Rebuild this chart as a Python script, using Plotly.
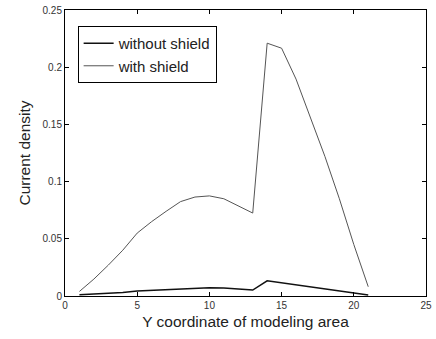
import plotly.graph_objects as go

x_vals = list(range(1, 22))
with_shield = [0.004, 0.0148, 0.027, 0.040, 0.055, 0.065, 0.074, 0.0825, 0.0865, 0.0875,
               0.085, 0.079, 0.0725, 0.221, 0.2166, 0.1896, 0.156, 0.122, 0.085, 0.045, 0.0081]
without_shield = [0.001, 0.0016, 0.0023, 0.0031, 0.0043, 0.005, 0.0058, 0.0065, 0.0071, 0.0073,
                  0.0069, 0.0061, 0.0052, 0.0133, 0.0115, 0.0097, 0.0078, 0.006, 0.0042, 0.0023, 0.0008]

x_ticks = [0, 5, 10, 15, 20, 25]
y_ticks = [0, 0.05, 0.1, 0.15, 0.2, 0.25]
y_tick_text = ["0", "0.05", "0.1", "0.15", "0.2", "0.25"]

fig = go.Figure()
fig.add_trace(go.Scatter(x=x_vals, y=without_shield, mode="lines", name="without shield",
                         line=dict(color="#111111", width=1.5)))
fig.add_trace(go.Scatter(x=x_vals, y=with_shield, mode="lines", name="with shield",
                         line=dict(color="#555555", width=1)))

axis_common = dict(showgrid=False, zeroline=False, showline=True, linecolor="black", linewidth=1,
                   mirror="ticks", ticks="inside", ticklen=4, tickcolor="black", tickwidth=1,
                   ticklabeloverflow="allow",
                   tickfont=dict(family="Liberation Sans, Arial", size=10, color="#333333"))

fig.update_layout(
    width=436, height=339,
    margin=dict(l=65, r=4, t=9, b=43),
    paper_bgcolor="white", plot_bgcolor="white",
    font=dict(family="Liberation Sans, Arial", color="#222222"),
    xaxis=dict(range=[0, 25], tickvals=x_ticks,
               title=dict(text="Y coordinate of modeling area", font=dict(size=15.5), standoff=6),
               **axis_common),
    yaxis=dict(range=[0, 0.25], tickvals=y_ticks, ticktext=y_tick_text,
               title=dict(text="Current density", font=dict(size=15.5), standoff=8),
               **axis_common),
    legend=dict(x=0.035, y=0.944, xanchor="left", yanchor="top",
                bordercolor="black", borderwidth=1, bgcolor="white",
                font=dict(size=15, color="#222222"), itemwidth=30, tracegroupgap=0),
    showlegend=True,
)

fig.write_html("out.html")
